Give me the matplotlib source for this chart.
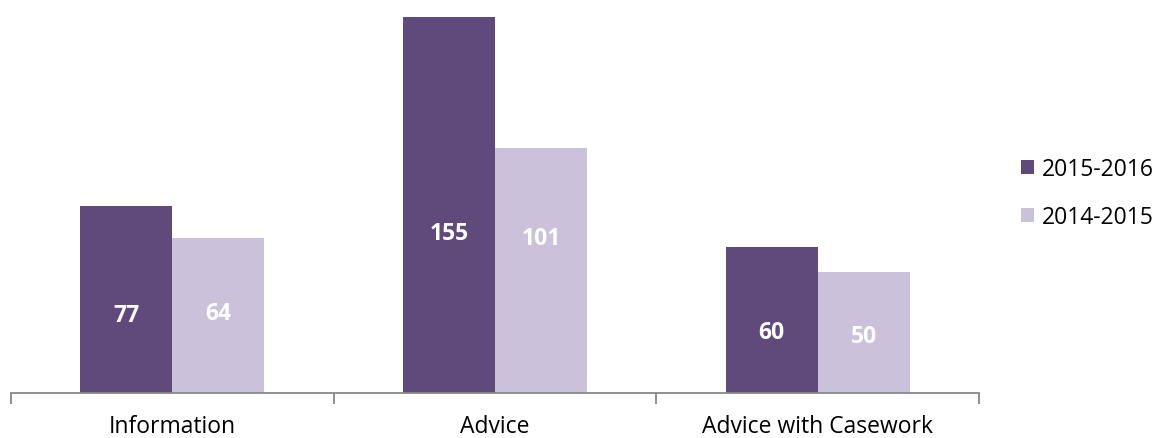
import matplotlib
matplotlib.use("Agg")
import matplotlib.pyplot as plt
import numpy as np

plt.rcParams['font.family'] = ['Open Sans', 'DejaVu Sans']

categories = ["Information", "Advice", "Advice with Casework"]
series_names = ["2015-2016", "2014-2015"]
values_2015_2016 = [77, 155, 60]
values_2014_2015 = [64, 101, 50]
colors = ["#604A7B", "#CCC1DA"]

# vertical placement of the value labels inside each bar (data units)
label_y_2015_2016 = [32, 66, 25]
label_y_2014_2015 = [33, 64, 23.5]

W, H = 1160, 439
fig = plt.figure(figsize=(W / 100, H / 100), dpi=100)
left_px, right_px, bottom_px, top_px = 11, 979, 394, 18
ax = fig.add_axes([left_px / W, 1 - bottom_px / H,
                   (right_px - left_px) / W, (bottom_px - top_px) / H])

x = np.arange(len(categories))
bw = 0.285
bars1 = ax.bar(x - bw / 2, values_2015_2016, bw, color=colors[0],
               label=series_names[0], clip_on=False)
bars2 = ax.bar(x + bw / 2, values_2014_2015, bw, color=colors[1],
               label=series_names[1], clip_on=False)

for xi, v, ly in zip(x, values_2015_2016, label_y_2015_2016):
    ax.text(xi - bw / 2, ly, f"{v}", ha="center", va="center",
            color="white", fontweight="bold", fontsize=16.5)
for xi, v, ly in zip(x, values_2014_2015, label_y_2014_2015):
    ax.text(xi + bw / 2, ly, f"{v}", ha="center", va="center",
            color="white", fontweight="bold", fontsize=16.5)

ax.set_xlim(-0.5, len(categories) - 0.5)
ax.set_ylim(0, 155)
ax.set_yticks([])
for s in ["top", "right", "left"]:
    ax.spines[s].set_visible(False)
ax.spines["bottom"].set_color("#888888")
ax.spines["bottom"].set_linewidth(1.3)

# category boundaries carry the tick marks, labels sit under the centres
ax.set_xticks(np.arange(-0.5, len(categories)), minor=False)
ax.set_xticklabels([])
ax.tick_params(axis="x", which="major", direction="out", length=8,
               width=1.3, color="#888888")
ax.set_xticks(x, minor=True)
ax.set_xticklabels(categories, minor=True, fontsize=16.5, color="#000000")
ax.tick_params(axis="x", which="minor", length=0, pad=15)

leg = fig.legend(handles=[bars1, bars2], labels=series_names,
                 loc="center left", bbox_to_anchor=(1021 / W, 1 - 194 / H),
                 frameon=False, fontsize=16.5, handlelength=0.55,
                 handleheight=0.55, handletextpad=0.35, labelspacing=1.05,
                 borderaxespad=0, borderpad=0)

fig.savefig("out.png", dpi=100)
